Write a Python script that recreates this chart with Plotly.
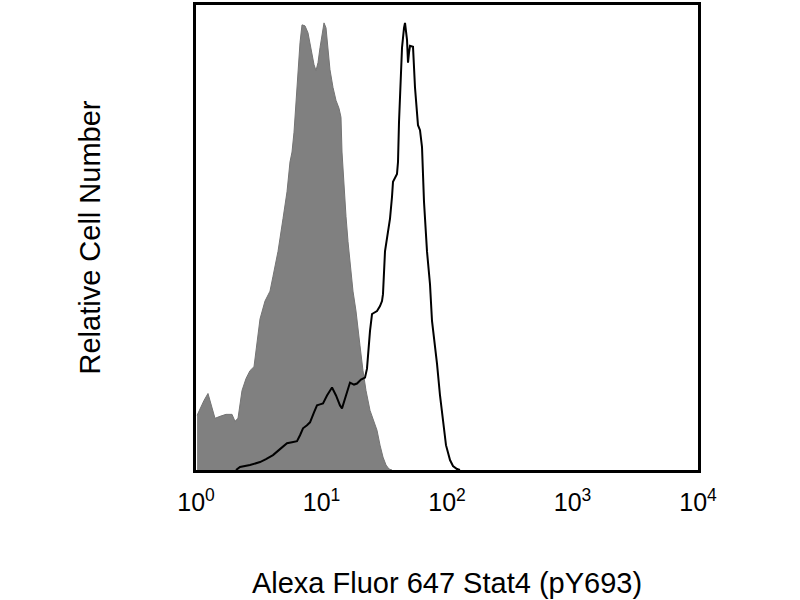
import plotly.graph_objects as go

# isotype control (filled gray histogram)
control_intensity = [
    1.02, 1.076, 1.158, 1.246, 1.317, 1.417, 1.553, 1.734, 1.936, 2.045, 2.161,
    2.326, 2.503, 2.694, 2.899, 3.063, 3.236, 3.546, 3.887, 4.107, 4.502, 4.934,
    5.311, 5.610, 5.820, 6.039, 6.264, 6.497, 6.742, 6.993, 7.388, 7.805, 8.098,
    8.400, 8.714, 9.042, 9.378, 9.728, 10.09, 10.47, 10.86, 11.27, 11.68, 12.35,
    13.05, 13.79, 14.30, 14.57, 15.12, 15.68, 16.26, 17.19, 17.82, 18.83, 19.54,
    20.27, 21.41, 22.62, 24.35, 26.20, 27.69, 29.26, 30.90, 32.66, 34.50, 36.46,
]
control_count = [
    55, 62, 70, 77, 65, 52, 54, 56, 56, 49, 52,
    80, 92, 100, 104, 130, 152, 170, 180, 195, 220, 253,
    280, 310, 320, 340, 370, 403, 430, 448, 447, 440, 430,
    420, 408, 402, 410, 425, 440, 450, 445, 425, 403, 385,
    372, 364, 355, 320, 280, 255, 230, 200, 180, 160, 145,
    125, 100, 80, 60, 48, 40, 25, 13, 5, 1, 0,
]

# Stat4 (pY693) stained cells (open histogram)
stat4_intensity = [
    2.083, 2.242, 2.694, 3.236, 3.613, 4.107, 4.670, 5.311, 5.820, 6.380, 6.742,
    7.123, 7.663, 8.098, 8.714, 9.208, 9.728, 10.28, 11.06, 12.13, 13.05, 14.04,
    14.57, 15.39, 15.97, 16.87, 18.16, 19.18, 20.64, 22.21, 23.04, 23.47, 24.35,
    25.26, 27.69, 29.26, 30.35, 30.90, 31.48, 32.06, 33.88, 35.15, 36.46, 37.13,
    39.96, 40.70, 41.45, 42.22, 43.00, 43.80, 45.44, 46.28, 48.01, 48.90, 49.81,
    50.73, 53.60, 54.59, 55.59, 58.74, 60.95, 63.22, 64.40, 65.58, 69.29, 73.21,
    75.95, 80.25, 83.24, 87.96, 92.92, 98.17, 105.7, 111.6, 120.1, 126.9,
]
stat4_count = [
    0, 3, 5, 8, 11, 15, 21, 27, 28, 29, 35,
    42, 45, 48, 58, 65, 66, 67, 75, 83, 75, 65,
    62, 72, 80, 88, 86, 87, 91, 93, 102, 117, 140,
    157, 160, 165, 170, 177, 200, 220, 240, 253, 275, 290,
    298, 310, 350, 370, 400, 425, 445, 450, 433, 410, 420,
    427, 426, 400, 385, 347, 342, 325, 300, 270, 220, 187,
    150, 125, 107, 75, 47, 25, 10, 4, 1, 0,
]

tick_vals = [1, 10, 100, 1000, 10000]
tick_text = ["10<sup>0</sup>", "10<sup>1</sup>", "10<sup>2</sup>", "10<sup>3</sup>", "10<sup>4</sup>"]

font_family = "Liberation Sans, Arial, sans-serif"

fig = go.Figure()

fig.add_trace(
    go.Scatter(
        x=control_intensity,
        y=control_count,
        mode="lines",
        fill="tozeroy",
        fillcolor="#808080",
        line=dict(color="#747474", width=1),
        hoverinfo="skip",
    )
)

fig.add_trace(
    go.Scatter(
        x=stat4_intensity,
        y=stat4_count,
        mode="lines",
        line=dict(color="black", width=2),
        hoverinfo="skip",
    )
)

fig.update_layout(
    width=800,
    height=600,
    margin=dict(l=196, r=102, t=2, b=130),
    paper_bgcolor="white",
    plot_bgcolor="white",
    showlegend=False,
    font=dict(family=font_family, color="black"),
    xaxis=dict(
        type="log",
        range=[0, 4],
        tickvals=tick_vals,
        ticktext=tick_text,
        ticks="",
        tickfont=dict(size=25),
        ticklabelstandoff=8,
        showgrid=False,
        zeroline=False,
        showline=True,
        mirror=True,
        linecolor="black",
        linewidth=3,
        title=dict(text="Alexa Fluor 647 Stat4 (pY693)", font=dict(size=29), standoff=58),
    ),
    yaxis=dict(
        range=[0, 468],
        showticklabels=False,
        ticks="",
        showgrid=False,
        zeroline=False,
        showline=True,
        mirror=True,
        linecolor="black",
        linewidth=3,
        title=dict(text="Relative Cell Number", font=dict(size=29), standoff=84),
    ),
)

# drop the page's default body margin so the figure sits at the window's corner
fig.write_html(
    "out.html",
    config={"displayModeBar": False},
    post_script="document.body.style.margin = '0';",
)
